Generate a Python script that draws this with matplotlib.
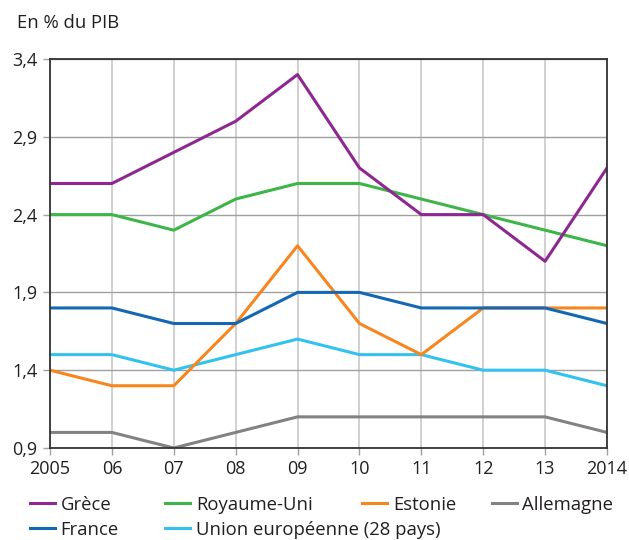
import matplotlib
matplotlib.use("Agg")
import matplotlib.pyplot as plt
from matplotlib.ticker import FuncFormatter

plt.rcParams["font.family"] = ["Open Sans", "DejaVu Sans"]

years = [2005, 2006, 2007, 2008, 2009, 2010, 2011, 2012, 2013, 2014]
year_labels = ["2005", "06", "07", "08", "09", "10", "11", "12", "13", "2014"]

grece = [2.6, 2.6, 2.8, 3.0, 3.3, 2.7, 2.4, 2.4, 2.1, 2.7]
royaume_uni = [2.4, 2.4, 2.3, 2.5, 2.6, 2.6, 2.5, 2.4, 2.3, 2.2]
estonie = [1.4, 1.3, 1.3, 1.7, 2.2, 1.7, 1.5, 1.8, 1.8, 1.8]
allemagne = [1.0, 1.0, 0.9, 1.0, 1.1, 1.1, 1.1, 1.1, 1.1, 1.0]
france = [1.8, 1.8, 1.7, 1.7, 1.9, 1.9, 1.8, 1.8, 1.8, 1.7]
ue28 = [1.5, 1.5, 1.4, 1.5, 1.6, 1.5, 1.5, 1.4, 1.4, 1.3]

y_ticks = [0.9, 1.4, 1.9, 2.4, 2.9, 3.4]

fig = plt.figure(figsize=(6.29, 5.4), dpi=100)
ax = fig.add_axes([0.0795, 0.1704, 0.8855, 0.7203])

lw = 2.2
l_all, = ax.plot(years, allemagne, color="#808285", lw=lw, label="Allemagne")
l_ue, = ax.plot(years, ue28, color="#33C1F0", lw=lw, label="Union européenne (28 pays)")
l_est, = ax.plot(years, estonie, color="#F7861F", lw=lw, label="Estonie")
l_fr, = ax.plot(years, france, color="#1468B3", lw=lw, label="France")
l_ru, = ax.plot(years, royaume_uni, color="#3DB549", lw=lw, label="Royaume-Uni")
l_gr, = ax.plot(years, grece, color="#8E278F", lw=lw, label="Grèce")

ax.set_xlim(years[0], years[-1])
ax.set_ylim(y_ticks[0], y_ticks[-1])
ax.set_xticks(years)
ax.set_xticklabels(year_labels)
ax.set_yticks(y_ticks)
ax.yaxis.set_major_formatter(FuncFormatter(lambda v, p: f"{v:.1f}".replace(".", ",")))

ax.grid(axis="x", color="#c8c8c8", lw=1.2)
ax.grid(axis="y", color="#a0a0a0", lw=1.0)
ax.set_axisbelow(True)
for s in ax.spines.values():
    s.set_color("#333333")
    s.set_linewidth(1.3)
ax.tick_params(axis="both", length=5, width=1, color="#a0a0a0", labelsize=13,
               labelcolor="#231f20", pad=4)

fig.text(0.027, 0.958, "En % du PIB", fontsize=13.3, color="#231f20", va="center")

# legend: one small legend per entry, laid out as in the original (2 rows)
slots = [(l_gr, 0.048, 0.065), (l_ru, 0.263, 0.065), (l_est, 0.576, 0.065),
         (l_all, 0.782, 0.065), (l_fr, 0.048, 0.019), (l_ue, 0.263, 0.019)]
for h, x, y in slots:
    leg = fig.legend([h], [h.get_label()], loc="center left", bbox_to_anchor=(x, y),
                     frameon=False, fontsize=13.3, handlelength=1.35,
                     handletextpad=0.3, borderaxespad=0, borderpad=0)
    for t in leg.get_texts():
        t.set_color("#231f20")

fig.savefig("out.png", dpi=100)
